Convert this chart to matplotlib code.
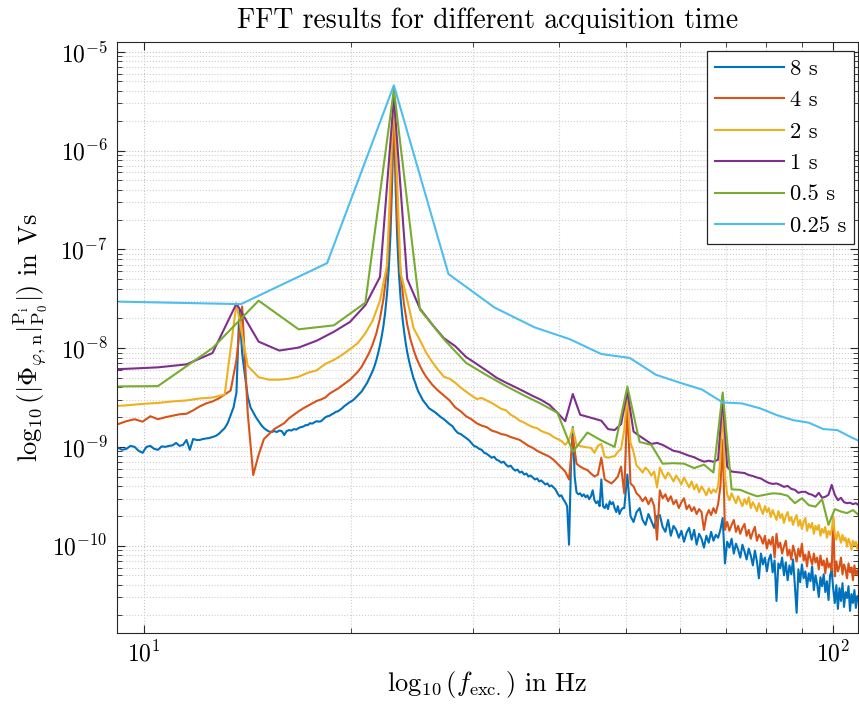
import matplotlib
matplotlib.use("Agg")
import matplotlib.pyplot as plt
from matplotlib.ticker import NullFormatter
import numpy as np

# FFT amplitude spectra, values stored as log10 of the amplitude in Vs
labels = ['8 s', '4 s', '2 s', '1 s', '0.5 s', '0.25 s']
colors = ['#0072BD', '#D95319', '#EDB120', '#7E2F8E', '#77AC30', '#4DBEEE']

# bin width of each record (Hz)
df_8s = 0.130966
df_4s = 0.26193
df_2s = 0.52386
df_1s = 1.04773
df_05s = 2.0955
df_025s = 4.6098

# 8 s record: bins 69..199 (every bin), 200..378 (every 2nd), 380..832 (every 4th)
amp_8s_lo = [
    -9.00, -9.01, -9.03, -9.02, -8.99, -9.00, -9.04, -9.06, -9.00, -8.99,
    -9.02, -9.03, -8.995, -9.00, -8.99, -8.985, -8.96, -8.99, -8.98, -8.93,
    -9.03, -8.92, -8.93, -8.93, -8.92, -8.915, -8.91, -8.90, -8.89, -8.87,
    -8.84, -8.81, -8.76, -8.68, -8.60, -8.45, -7.62, -8.05, -8.28, -8.49,
    -8.60, -8.65, -8.70, -8.74, -8.78, -8.81, -8.83, -8.845, -8.85, -8.84,
    -8.85, -8.835, -8.84, -8.88, -8.84, -8.83, -8.835, -8.82, -8.825, -8.81,
    -8.80, -8.795, -8.78, -8.78, -8.76, -8.765, -8.75, -8.74, -8.745, -8.74,
    -8.72, -8.70, -8.69, -8.685, -8.67, -8.66, -8.645, -8.64, -8.625, -8.61,
    -8.59, -8.575, -8.56, -8.545, -8.535, -8.52, -8.50, -8.48, -8.46, -8.44,
    -8.41, -8.38, -8.35, -8.31, -8.27, -8.23, -8.18, -8.12, -8.05, -7.97,
    -7.88, -7.77, -7.63, -7.45, -7.20, -6.85, -6.30, -5.60, -6.35, -6.90,
    -7.25, -7.50, -7.68, -7.82, -7.94, -8.04, -8.12, -8.19, -8.25, -8.31,
    -8.35, -8.40, -8.44, -8.47, -8.50, -8.53, -8.55, -8.57, -8.59, -8.61, -8.62,
]
amp_8s_mid = [
    -8.63, -8.65, -8.675, -8.70, -8.72, -8.745, -8.77, -8.79, -8.83, -8.86,
    -8.87, -8.89, -8.91, -8.93, -8.96, -8.99, -9.00, -9.02, -9.03, -9.06,
    -9.07, -9.09, -9.11, -9.10, -9.13, -9.14, -9.16, -9.15, -9.18, -9.20,
    -9.19, -9.22, -9.24, -9.23, -9.26, -9.25, -9.28, -9.27, -9.30, -9.29,
    -9.31, -9.33, -9.32, -9.35, -9.34, -9.36, -9.38, -9.37, -9.40, -9.39,
    -9.41, -9.43, -9.47, -9.50, -9.49, -9.53, -9.56, -9.60, -9.99, -9.20,
    -8.80, -9.30, -9.46, -9.48, -9.47, -9.50, -9.48, -9.51, -9.49, -9.53,
    -9.50, -9.44, -9.54, -9.57, -9.55, -9.60, -9.33, -9.60, -9.62, -9.58,
    -9.63, -9.55, -9.58, -9.56, -9.62, -9.66, -9.60, -9.68, -9.64, -9.62,
]
amp_8s_hi = [
    -9.62, -9.28, -9.70, -9.76, -9.66, -9.62, -9.74, -9.79, -9.68, -9.75,
    -9.82, -9.70, -9.69, -9.81, -9.86, -9.74, -9.90, -9.80, -9.84, -9.92,
    -9.85, -9.96, -9.87, -9.82, -9.94, -9.84, -9.99, -9.88, -9.93, -10.02,
    -9.90, -9.97, -9.86, -9.95, -9.89, -9.92, -9.84, -9.72, -10.18, -9.96,
    -10.02, -9.93, -10.08, -9.98, -10.04, -10.12, -9.99, -10.06, -10.14, -10.03,
    -10.10, -10.20, -10.05, -10.16, -10.33, -10.08, -10.19, -10.12, -10.26, -10.14,
    -10.09, -10.27, -10.15, -10.56, -10.18, -10.23, -10.12, -10.30, -10.17, -10.35,
    -10.20, -10.29, -10.14, -10.40, -10.68, -10.24, -10.37, -10.19, -10.33, -10.26,
    -10.42, -10.28, -10.36, -10.21, -10.45, -10.30, -10.39, -10.52, -10.32, -10.41,
    -10.29, -10.47, -10.36, -10.55, -10.30, -10.25, -10.44, -10.58, -10.40, -10.64,
    -10.43, -10.56, -10.38, -10.62, -10.47, -10.53, -10.41, -10.66, -10.49, -10.58,
    -10.45, -10.63, -10.51, -10.56,
]

# 4 s record: bins 34..99 (every bin), 100..416 (every 2nd)
amp_4s_lo = [
    -8.76, -8.77, -8.74, -8.72, -8.745, -8.69, -8.72, -8.70, -8.685, -8.67,
    -8.665, -8.63, -8.59, -8.56, -8.54, -8.51, -8.47, -8.43, -8.12, -7.58,
    -8.66, -9.285, -9.08, -8.92, -8.87, -8.82, -8.79, -8.76, -8.71, -8.675,
    -8.64, -8.61, -8.585, -8.56, -8.535, -8.52, -8.50, -8.46, -8.435, -8.41,
    -8.38, -8.35, -8.32, -8.28, -8.24, -8.19, -8.12, -8.05, -7.96, -7.85,
    -7.70, -7.50, -7.20, -6.65, -5.55, -6.70, -7.25, -7.55, -7.76, -7.91,
    -8.02, -8.11, -8.18, -8.24, -8.29, -8.33,
]
amp_4s_hi = [
    -8.37, -8.43, -8.48, -8.53, -8.60, -8.64, -8.69, -8.72, -8.76, -8.785,
    -8.80, -8.835, -8.85, -8.87, -8.88, -8.90, -8.915, -8.93, -8.96, -8.99,
    -9.01, -9.04, -9.06, -9.08, -9.10, -9.13, -9.17, -9.21, -9.25, -9.33,
    -8.90, -9.17, -9.20, -9.22, -9.235, -9.27, -9.30, -9.28, -9.11, -9.33,
    -9.35, -9.37, -9.34, -9.30, -9.20, -9.47, -8.56, -9.37, -9.40, -9.47,
    -9.50, -9.55, -9.51, -9.58, -9.52, -9.60, -9.94, -9.44, -9.52, -9.48,
    -9.55, -9.50, -9.58, -9.54, -9.62, -9.56, -9.52, -9.63, -9.59, -9.65,
    -9.61, -9.68, -9.63, -9.66, -9.84, -9.70, -9.64, -9.69, -9.62, -9.67,
    -9.58, -9.40, -8.93, -9.84, -9.76, -9.85, -9.79, -9.74, -9.86, -9.80,
    -9.88, -9.82, -9.78, -9.90, -9.84, -9.93, -9.86, -9.81, -9.95, -9.89,
    -9.92, -9.98, -9.90, -10.03, -9.94, -9.99, -9.91, -10.12, -9.88, -10.02,
    -9.97, -10.08, -10.01, -9.95, -10.10, -10.04, -10.14, -10.00, -10.07, -10.16,
    -10.03, -10.11, -9.98, -10.15, -10.09, -10.21, -10.06, -10.13, -10.19, -10.08,
    -10.17, -10.12, -10.24, -10.10, -10.20, -10.15, -10.28, -10.13, -10.22, -10.18,
    -10.25, -9.71, -10.31, -10.16, -10.26, -10.21, -10.12, -10.29, -10.19, -10.24,
    -10.33, -10.18, -10.27, -10.22, -10.35, -10.20, -10.29, -10.25, -10.31,
]

# 2 s record: bins 17..208
amp_2s = [
    -8.59, -8.58, -8.565, -8.555, -8.54, -8.53, -8.51, -8.50, -8.47, -7.55,
    -8.18, -8.295, -8.32, -8.32, -8.31, -8.29, -8.25, -8.225, -8.16, -8.12,
    -8.07, -8.01, -7.95, -7.85, -7.72, -7.52, -7.16, -5.43, -7.24, -7.51,
    -7.80, -7.92, -8.045, -8.14, -8.22, -8.29, -8.31, -8.35, -8.40, -8.44,
    -8.48, -8.515, -8.505, -8.53, -8.555, -8.585, -8.615, -8.63, -8.675, -8.70,
    -8.735, -8.755, -8.78, -8.80, -8.81, -8.84, -8.855, -8.87, -8.90, -8.92,
    -8.94, -8.98, -8.93, -8.81, -8.98, -8.99, -9.00, -9.005, -9.01, -9.06,
    -8.99, -8.97, -9.10, -9.11, -9.10, -9.095, -9.05, -9.02, -8.83, -8.45,
    -8.96, -9.05, -9.19, -9.22, -9.26, -9.21, -9.24, -9.29, -9.25, -9.41,
    -9.21, -9.27, -9.32, -9.26, -9.30, -9.35, -9.29, -9.33, -9.38, -9.31,
    -9.36, -9.41, -9.35, -9.43, -9.38, -9.46, -9.40, -9.44, -9.49, -9.42,
    -9.47, -9.43, -9.46, -9.40, -9.12, -8.53, -9.30, -9.48, -9.54, -9.47,
    -9.52, -9.57, -9.50, -9.55, -9.60, -9.53, -9.58, -9.51, -9.62, -9.56,
    -9.60, -9.65, -9.57, -9.63, -9.68, -9.60, -9.66, -9.62, -9.71, -9.64,
    -9.69, -9.74, -9.65, -9.72, -9.68, -9.77, -9.70, -9.66, -9.75, -9.71,
    -9.79, -9.73, -9.69, -9.80, -9.74, -9.83, -9.76, -9.72, -9.85, -9.78,
    -9.82, -9.77, -9.88, -9.80, -9.84, -9.79, -9.90, -9.83, -9.87, -9.81,
    -9.92, -9.85, -9.89, -9.84, -9.71, -9.88, -9.94, -9.86, -9.91, -9.97,
    -9.89, -9.95, -9.92, -10.01, -9.93, -9.97, -10.04, -9.95, -10.00, -9.96,
    -10.03, -9.98,
]

# 1 s record: bins 8..104
amp_1s = [
    -8.22, -8.21, -8.195, -8.165, -8.05, -7.55, -7.935, -8.025, -7.995, -7.925,
    -7.835, -7.735, -7.565, -7.28, -5.46, -7.30, -7.60, -7.76, -7.90, -7.98,
    -8.09, -8.16, -8.23, -8.30, -8.35, -8.395, -8.44, -8.485, -8.525, -8.575,
    -8.655, -8.74, -8.465, -8.675, -8.695, -8.715, -8.735, -8.82, -8.83, -8.77,
    -8.44, -8.845, -8.89, -8.93, -8.97, -8.96, -8.98, -9.01, -9.04, -9.05,
    -9.07, -9.09, -9.105, -9.13, -9.15, -9.14, -9.15, -9.13, -8.49, -9.20,
    -9.25, -9.255, -9.26, -9.265, -9.285, -9.295, -9.31, -9.32, -9.345, -9.365,
    -9.375, -9.37, -9.385, -9.405, -9.395, -9.425, -9.435, -9.465, -9.455, -9.455,
    -9.475, -9.485, -9.505, -9.465, -9.515, -9.505, -9.485, -9.385, -9.485, -9.54,
    -9.515, -9.56, -9.57, -9.565, -9.58, -9.57, -9.59,
]

# 0.5 s record: bins 4..52
amp_05s = [
    -8.39, -8.385, -8.00, -7.52, -7.81, -7.77, -7.54, -5.38, -7.61, -7.91,
    -8.15, -8.275, -8.385, -8.48, -8.565, -8.655, -9.05, -8.855, -8.935, -9.00,
    -8.39, -8.95, -8.98, -9.17, -9.165, -9.17, -9.215, -9.18, -9.26, -8.45,
    -9.43, -9.435, -9.47, -9.50, -9.485, -9.47, -9.475, -9.495, -9.57, -9.52,
    -9.59, -9.605, -9.53, -9.79, -9.63, -9.655, -9.67, -9.64, -9.69,
]

# 0.25 s record: bins 2..24
amp_025s = [
    -7.53, -7.555, -7.14, -5.34, -7.25, -7.59, -7.79, -7.91, -8.06, -8.10,
    -8.27, -8.35, -8.42, -8.55, -8.56, -8.61, -8.68, -8.73, -8.755, -8.82,
    -8.83, -8.90, -8.96,
]

x_major = [10, 100]
x_minor = [20, 30, 40, 50, 60, 70, 80, 90]
y_major = [1e-10, 1e-9, 1e-8, 1e-7, 1e-6, 1e-5]


def bins(start, step, n):
    return start + step * np.arange(n)


freq_8s = df_8s * np.concatenate([bins(69, 1, len(amp_8s_lo)),
                                  bins(200, 2, len(amp_8s_mid)),
                                  bins(380, 4, len(amp_8s_hi))])
freq_4s = df_4s * np.concatenate([bins(34, 1, len(amp_4s_lo)),
                                  bins(100, 2, len(amp_4s_hi))])
freq_2s = df_2s * bins(17, 1, len(amp_2s))
freq_1s = df_1s * bins(8, 1, len(amp_1s))
freq_05s = df_05s * bins(4, 1, len(amp_05s))
freq_025s = df_025s * bins(2, 1, len(amp_025s))

series = [
    (freq_8s, amp_8s_lo + amp_8s_mid + amp_8s_hi),
    (freq_4s, amp_4s_lo + amp_4s_hi),
    (freq_2s, amp_2s),
    (freq_1s, amp_1s),
    (freq_05s, amp_05s),
    (freq_025s, amp_025s),
]

plt.rcParams['font.family'] = 'serif'
plt.rcParams['font.serif'] = ['cmr10']
plt.rcParams['mathtext.fontset'] = 'cm'
plt.rcParams['axes.formatter.use_mathtext'] = True

fig = plt.figure(figsize=(8.59, 7.04), dpi=100)
ax = fig.add_axes([0.1359, 0.1009, 0.8633, 0.8390])

for (f, a), lab, c in zip(series, labels, colors):
    ax.loglog(f, 10.0 ** np.array(a), color=c, lw=1.5, label=lab)

ax.set_xlim(9.13, 108.8)
ax.set_ylim(1.307e-11, 1.245e-5)

# fixed ticks so that no tick labels exist outside the view
y_minor = [m * d for d in [1e-11, 1e-10, 1e-9, 1e-8, 1e-7, 1e-6] for m in range(2, 10)]
ax.set_xticks(x_major)
ax.set_xticks(x_minor, minor=True)
ax.set_yticks(y_major)
ax.set_yticks(y_minor, minor=True)
ax.xaxis.set_minor_formatter(NullFormatter())
ax.yaxis.set_minor_formatter(NullFormatter())
ax.set_xlim(9.13, 108.8)
ax.set_ylim(1.307e-11, 1.245e-5)

ax.grid(True, which='major', ls=':', color='#c4c4c4', lw=0.8)
ax.grid(True, which='minor', ls=':', color='#cfcfcf', lw=0.8)
ax.set_axisbelow(True)

ax.tick_params(which='both', direction='in', top=True, right=True,
               colors='#262626', labelcolor='black', labelsize=17)
ax.tick_params(which='major', length=6, width=0.8)
ax.tick_params(which='minor', length=3.5, width=0.6)
ax.tick_params(axis='x', which='major', pad=6)
ax.tick_params(axis='y', which='major', pad=6.5)
for s in ax.spines.values():
    s.set_color('#262626')
    s.set_linewidth(0.8)

ax.set_title('FFT results for different acquisition time', fontsize=20, pad=10)
ax.set_xlabel(r'$\log_{10}(f_{\mathrm{exc.}})$ in Hz', fontsize=19, labelpad=2)
ax.set_ylabel(r'$\log_{10}(|\Phi_{\varphi,\mathrm{n}}|_{\mathrm{P}_0}^{\mathrm{P}_\mathrm{i}}|)$ in Vs',
              fontsize=19, labelpad=2)

leg = ax.legend(loc='upper right', bbox_to_anchor=(0.9946, 0.9853), fontsize=16.2,
                handlelength=3.07, handletextpad=0.25, labelspacing=0.52,
                borderpad=0.35, borderaxespad=0.0, fancybox=False, framealpha=1)
leg.get_frame().set_edgecolor('#262626')
leg.get_frame().set_linewidth(0.9)

fig.savefig('out.png', dpi=100)
